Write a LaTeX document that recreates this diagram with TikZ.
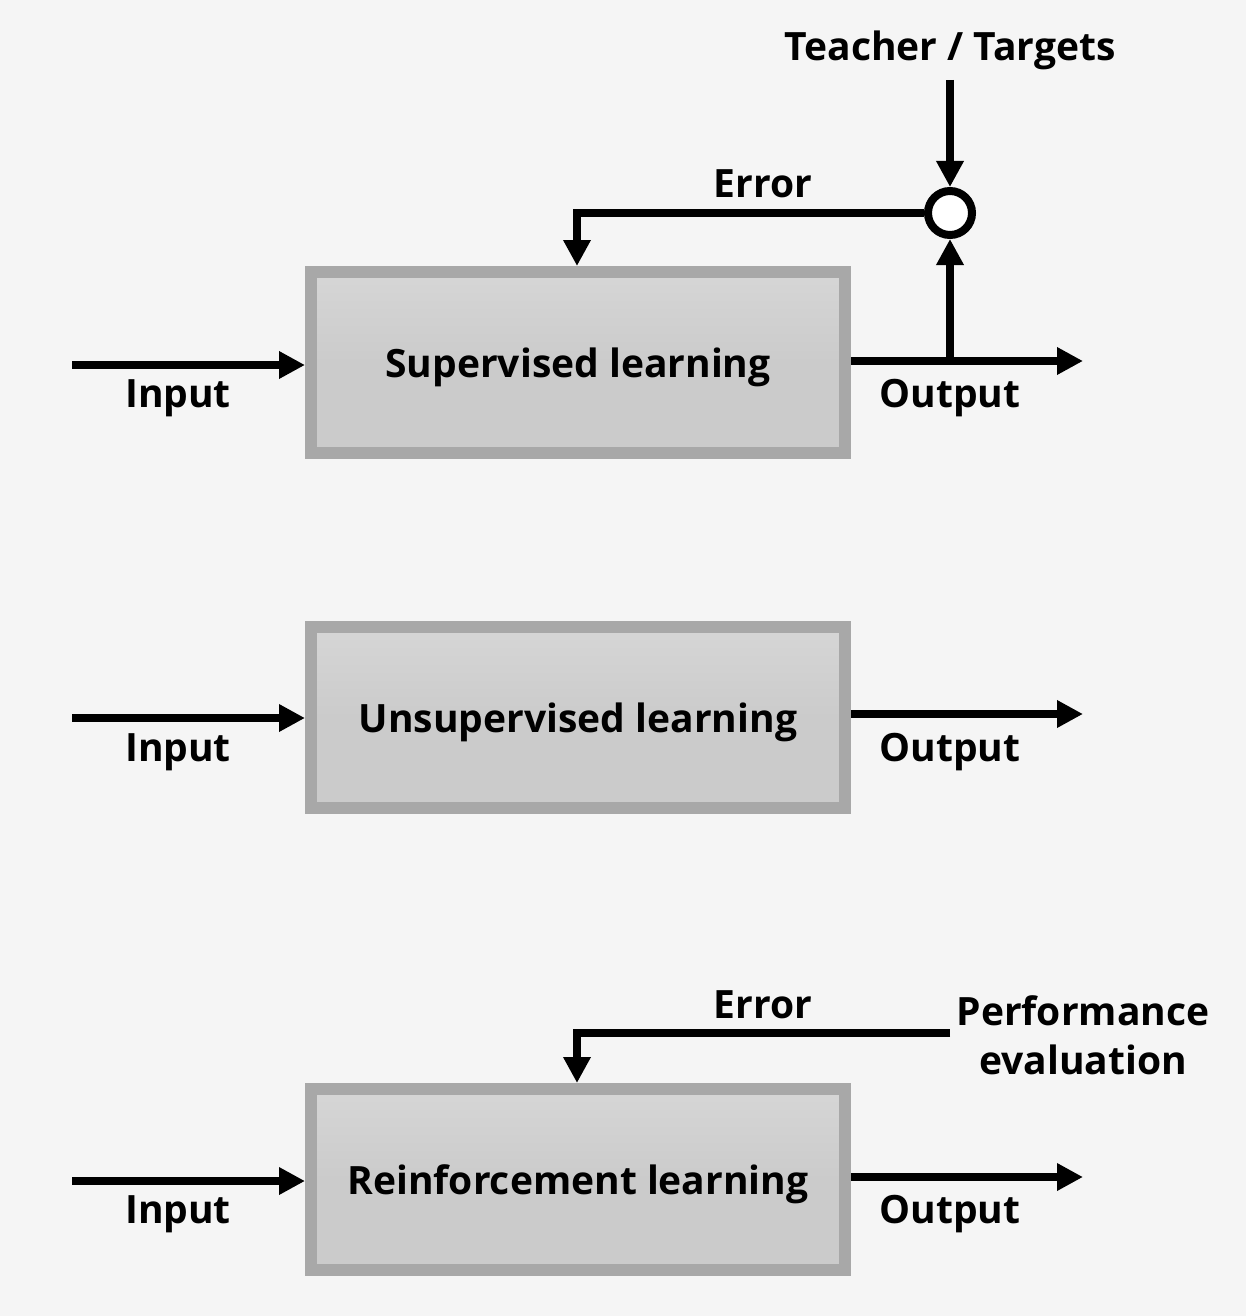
\documentclass[tikz,border=0pt]{standalone}
\usepackage{fontspec}
\setmainfont{Open Sans}
\usetikzlibrary{arrows.meta}
\definecolor{bg}{HTML}{F5F5F5}
\definecolor{boxborder}{HTML}{A8A8A8}
\definecolor{boxfill}{HTML}{CBCBCB}
\definecolor{boxtop}{HTML}{D6D6D6}
\begin{document}
\begin{tikzpicture}[x=1pt,y=-1pt,
  lbl/.style={font=\fontsize{39}{47}\selectfont\bfseries, text=black, inner sep=0pt},
  learnbox/.style={draw=boxborder, line width=12pt, top color=boxtop, bottom color=boxfill, middle color=boxfill,
     minimum width=534pt, minimum height=181pt, inner sep=0pt},
  conn/.style={line width=8pt, -{Triangle[length=26pt,width=26pt]}},
  plain/.style={line width=8pt}
]
\fill[bg] (0,0) rectangle (1246,1316);
\useasboundingbox (0,0) rectangle (1246,1316);

% Supervised
\node[learnbox] (sup) at (578,362.5) {};
\node[lbl] (suptxt) at (578,367) {Supervised learning};
\coordinate (supin) at (72,365);
\coordinate (supout) at (1083,361);
\coordinate (supsplit) at (950,361);
\node[circle, draw=black, fill=white, line width=8pt, minimum size=44pt, inner sep=0pt] (sum) at (950,213) {};
\coordinate (teach) at (950,80);
\coordinate (supcorner) at (577,213);
\draw[conn] (supin) -- (supin -| sup.west);
\draw[conn] (supout -| sup.east) -- (supout);
\draw[conn] (supsplit) -- (sum.south);
\draw[conn] (teach) -- (sum.north);
\draw[conn] (sum.west) -- (supcorner) -- (supcorner |- sup.north);
\node[lbl] (tt) at (950,50) {Teacher / Targets};
\node[lbl] (err1) at (763,184) {Error};
\node[lbl] (in1) at (178,398) {Input};
\node[lbl] (out1) at (950,398) {Output};

% Unsupervised
\node[learnbox] (uns) at (578,717.5) {};
\node[lbl] (unstxt) at (578,722) {Unsupervised learning};
\coordinate (unsin) at (72,718);
\coordinate (unsout) at (1083,714);
\draw[conn] (unsin) -- (unsin -| uns.west);
\draw[conn] (unsout -| uns.east) -- (unsout);
\node[lbl] (in2) at (178,752) {Input};
\node[lbl] (out2) at (950,752) {Output};

% Reinforcement
\node[learnbox] (rei) at (578,1179.5) {};
\node[lbl] (reitxt) at (578,1184) {Reinforcement learning};
\coordinate (reiin) at (72,1181);
\coordinate (reiout) at (1083,1177);
\coordinate (perf) at (950,1033);
\coordinate (reicorner) at (577,1033);
\draw[conn] (reiin) -- (reiin -| rei.west);
\draw[conn] (reiout -| rei.east) -- (reiout);
\draw[conn] (perf) -- (reicorner) -- (reicorner |- rei.north);
\node[lbl] (err2) at (763,1005) {Error};
\node[lbl, align=center] (pe) at (1083,1035) {Performance\\[2pt]evaluation};
\node[lbl] (in3) at (178,1214) {Input};
\node[lbl] (out3) at (950,1214) {Output};
\end{tikzpicture}
\end{document}
